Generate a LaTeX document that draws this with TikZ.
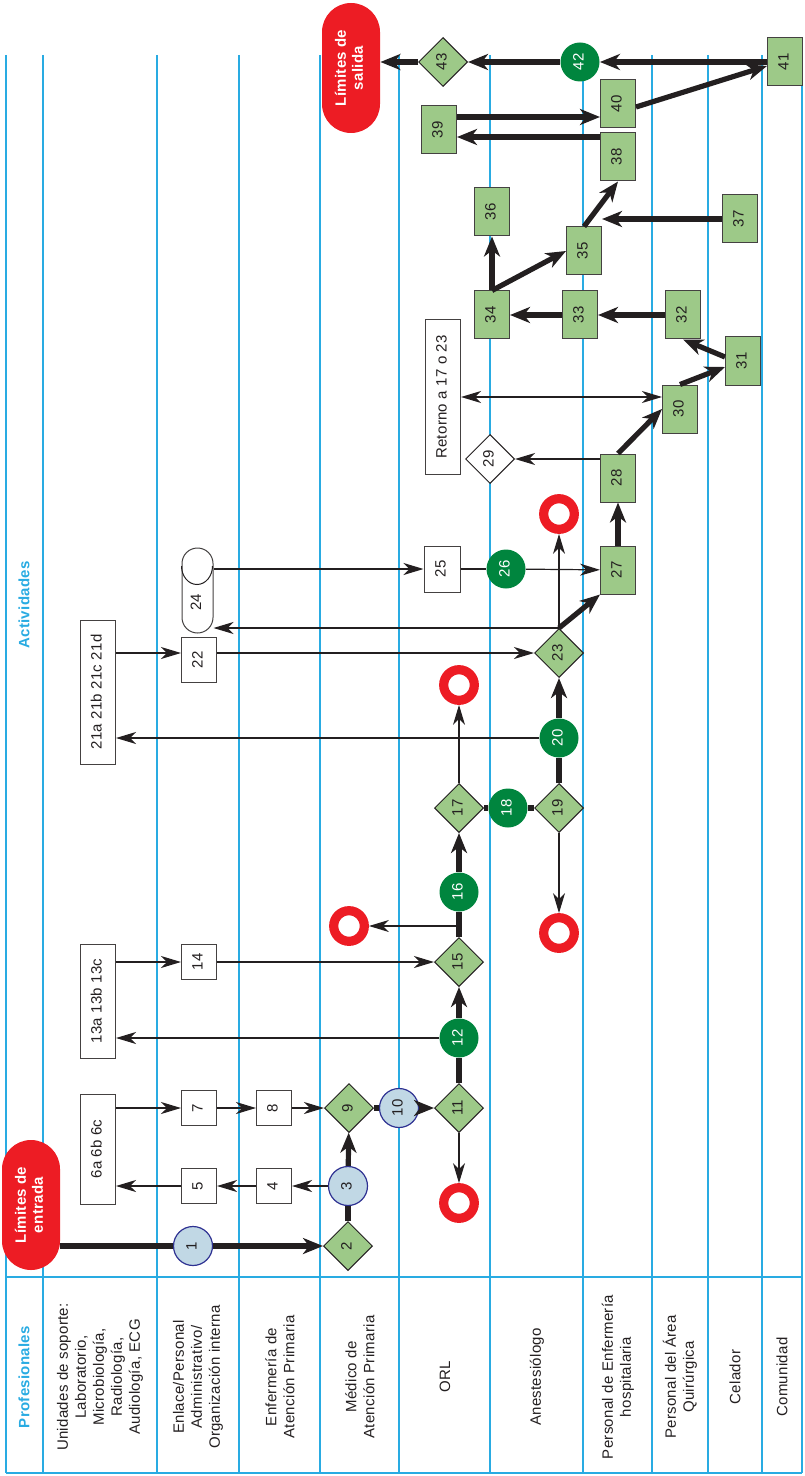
\documentclass[tikz,border=0pt]{standalone}
\usepackage{fontspec}
\setmainfont{Liberation Sans}[LetterSpace=2]
\usepackage{graphicx}
\usetikzlibrary{shapes.geometric, arrows.meta, positioning}

\definecolor{lanecol}{RGB}{41,171,226}
\definecolor{greenfill}{RGB}{157,201,136}
\definecolor{darkgreen}{RGB}{0,133,62}
\definecolor{paleblue}{RGB}{193,216,229}
\definecolor{navy}{RGB}{46,49,146}
\definecolor{alertred}{RGB}{237,28,36}
\definecolor{ink}{RGB}{35,31,32}

\newcommand{\vtxt}[1]{\rotatebox{90}{\begin{tabular}{@{}c@{}}#1\end{tabular}}}

\begin{document}
\begin{tikzpicture}[
    x=0.5pt, y=-0.5pt,
    font=\fontsize{7.5}{9}\selectfont,
    lane/.style={draw=lanecol, line width=0.8pt},
    lanetxt/.style={rotate=90, align=center, inner sep=0pt, text=ink},
    head/.style={rotate=90, inner sep=0pt, text=lanecol,
                 font=\fontsize{7.5}{9}\selectfont\bfseries},
    box/.style={rectangle, draw=ink!85, fill=white, line width=0.5pt, inner sep=0pt,
                minimum width=17.5pt, minimum height=17.5pt, text=ink},
    gbox/.style={box, fill=greenfill, minimum height=24pt},
    dec/.style={diamond, draw=ink, fill=greenfill, line width=0.5pt, inner sep=0pt,
                minimum width=24.5pt, minimum height=24.5pt, text=ink},
    pc/.style={circle, draw=navy, fill=paleblue, line width=0.6pt, inner sep=0pt,
               minimum size=19.5pt, text=ink},
    gc/.style={circle, fill=darkgreen, text=white, inner sep=0pt, minimum size=19.5pt},
    ring/.style={circle, draw=alertred, line width=4.6pt, inner sep=0pt, minimum size=15.3pt},
    limit/.style={rectangle, rounded corners=14.5pt, fill=alertred, text=white,
                  minimum width=29pt, minimum height=65pt, inner sep=0pt,
                  font=\fontsize{7.5}{8.5}\selectfont\bfseries},
    flow/.style={draw=ink, line width=0.6pt, -{Stealth[length=10pt, width=6pt, inset=3pt]}},
    flowboth/.style={draw=ink, line width=0.6pt,
                     {Stealth[length=10pt, width=6pt, inset=3pt]}-{Stealth[length=10pt, width=6pt, inset=3pt]}},
    flowline/.style={draw=ink, line width=0.6pt},
    bigflow/.style={draw=ink, line width=2.6pt, -{Stealth[length=10pt, width=8pt, inset=3pt]}},
    bigline/.style={draw=ink, line width=2.6pt}
]
\useasboundingbox (0,0) rectangle (804,1476);

% swimlanes
\foreach \x in {6,43,157,239,320,399,490,583,652,708,762,802}
  \draw[lane] (\x,55) -- (\x,1473);
\draw[lane] (6,1277) -- (802,1277);
\draw[lane] (6,1473) -- (802,1473);

\node[head] (hact) at (24,605) {Actividades};
\node[head] (hprof) at (24,1377) {Profesionales};
\node[lanetxt] (l1) at (100,1377) {Unidades de soporte:\\Laboratorio,\\Microbiología,\\Radiología,\\Audiología, ECG};
\node[lanetxt] (l2) at (198,1377) {Enlace/Personal\\Administrativo/\\Organización interna};
\node[lanetxt] (l3) at (280,1377) {Enfermería de\\Atención Primaria};
\node[lanetxt] (l4) at (360,1377) {Médico de\\Atención Primaria};
\node[lanetxt] (l5) at (445,1377) {ORL};
\node[lanetxt] (l6) at (537,1377) {Anestesiólogo};
\node[lanetxt] (l7) at (618,1377) {Personal de Enfermería\\hospitalaria};
\node[lanetxt] (l8) at (680,1377) {Personal del Área\\Quirúrgica};
\node[lanetxt] (l9) at (735,1377) {Celador};
\node[lanetxt] (l10) at (782,1377) {Comunidad};

% activities
\node[limit] (entrada) at (31,1205) {\vtxt{Límites de\\entrada}};
\node[limit] (salida) at (351,68) {\vtxt{Límites de\\salida}};

\node[pc]  (c1) at (193,1246) {\vtxt{1}};
\node[dec] (d2) at (348,1246) {\vtxt{2}};
\node[pc]  (c3) at (348,1186) {\vtxt{3}};
\node[box] (b4) at (274,1186) {\vtxt{4}};
\node[box] (b5) at (199,1186) {\vtxt{5}};
\node[box, minimum height=55pt] (b6) at (98,1149) {\vtxt{6a 6b 6c}};
\node[box] (b7) at (199,1108) {\vtxt{7}};
\node[box] (b8) at (274,1108) {\vtxt{8}};
\node[dec] (d9) at (349,1108) {\vtxt{9}};
\node[pc]  (c10) at (399,1108) {\vtxt{10}};
\node[dec] (d11) at (459,1108) {\vtxt{11}};
\node[ring] (r11) at (459,1203) {};
\node[gc]  (c12) at (459,1038) {\vtxt{12}};
\node[box, minimum height=57pt] (b13) at (98,1001) {\vtxt{13a 13b 13c}};
\node[box] (b14) at (199,962) {\vtxt{14}};
\node[dec] (d15) at (459,962) {\vtxt{15}};
\node[ring] (r15) at (349,926) {};
\node[gc]  (c16) at (459,892) {\vtxt{16}};
\node[dec] (d17) at (459,808) {\vtxt{17}};
\node[ring] (r17) at (459,685) {};
\node[gc]  (c18) at (508,808) {\vtxt{18}};
\node[dec] (d19) at (559,808) {\vtxt{19}};
\node[ring] (r19) at (559,933) {};
\node[gc]  (c20) at (559,738) {\vtxt{20}};
\node[box, minimum height=72pt] (b21) at (98,692) {\vtxt{21a 21b 21c 21d}};
\node[box, minimum height=22.5pt] (b22) at (199,660) {\vtxt{22}};
\node[dec] (d23) at (559,653) {\vtxt{23}};
\node[ring] (r23) at (559,514) {};
\node[box, rounded corners=7.75pt, minimum width=15.5pt, minimum height=42.5pt]
     (cy24) at (197.5,590.5) {\vtxt{24\kern12pt}};
\draw[ink, line width=0.5pt] ([yshift=-9.25pt]cy24.north west)
     arc[start angle=180, end angle=360, x radius=7.75pt, y radius=9.25pt];
\node[box, minimum width=18pt, minimum height=23pt] (b25) at (442,569) {\vtxt{25}};
\node[gc]   (c26) at (506,569) {\vtxt{26}};
\node[gbox] (g27) at (618,570) {\vtxt{27}};
\node[gbox] (g28) at (618,478) {\vtxt{28}};
\node[dec, fill=white] (d29) at (490,459) {\vtxt{29}};
\node[box, minimum height=77.5pt] (ret) at (443,397) {\vtxt{Retorno a 17 o 23}};
\node[gbox] (g30) at (680,409) {\vtxt{30}};
\node[gbox] (g31) at (743,361) {\vtxt{31}};
\node[gbox] (g32) at (683,315) {\vtxt{32}};
\node[gbox] (g33) at (580,315) {\vtxt{33}};
\node[gbox] (g34) at (492,315) {\vtxt{34}};
\node[gbox] (g35) at (584,251) {\vtxt{35}};
\node[gbox] (g36) at (492,212) {\vtxt{36}};
\node[gbox] (g37) at (740,219) {\vtxt{37}};
\node[gbox] (g38) at (618,157) {\vtxt{38}};
\node[gbox] (g39) at (439,130) {\vtxt{39}};
\node[gbox] (g40) at (618,104) {\vtxt{40}};
\node[gbox] (g41) at (785,62) {\vtxt{41}};
\node[gc]   (c42) at (580,62) {\vtxt{42}};
\node[dec]  (d43) at (443,62) {\vtxt{43}};

% connectors
\draw[bigline] (entrada.east |- c1) -- (c1);
\draw[bigflow] (c1) -- (d2);
\draw[bigline] (d2) -- (c3);
\draw[bigflow] (c3) -- (d9);
\draw[flow] (c3) -- (b4);
\draw[flow] (b4) -- (b5);
\draw[flow] (b5) -- (b5 -| b6.east);
\draw[flow] (b6.east |- b7) -- (b7);
\draw[flow] (b7) -- (b8);
\draw[flow] (b8) -- (d9);
\draw[bigline] (d9) -- (c10);
\draw[bigflow] (c10) -- (d11);
\draw[flow] (d11) -- (r11);
\draw[bigline] (d11) -- (c12);
\draw[bigflow] (c12) -- (d15);
\draw[flow] (c12) -- (c12 -| b13.east);
\draw[flow] (b13.east |- b14) -- (b14);
\draw[flow] (b14) -- (d15);
\draw[bigline] (d15) -- (c16);
\draw[flow] (c16 |- r15) -- (r15);
\draw[bigflow] (c16) -- (d17);
\draw[flow] (d17) -- (r17);
\draw[bigline] (d17) -- (c18);
\draw[bigline] (c18) -- (d19);
\draw[flow] (d19) -- (r19);
\draw[bigline] (d19) -- (c20);
\draw[flow] (c20) -- (c20 -| b21.east);
\draw[bigflow] (c20) -- (d23);
\draw[flow] (b21.east |- d23) -- (b22.west |- d23);
\draw[flow] (b22.east |- d23) -- (d23);
\draw[flow] (d23.north) -- (d23.north -| cy24.east);
\draw[flow] (d23.north) -- (r23);
\draw[bigflow] (d23.north) -- (g27.south west);
\draw[flow] (cy24.east |- b25) -- (b25);
\draw[flowline] (b25) -- (c26);
\draw[flow] (c26) -- (g27);
\draw[bigflow] (g27) -- (g28);
\draw[flow] (g28.west |- d29) -- (d29);
\draw[bigflow] (g28.north) -- (g30.west);
\draw[flowboth] (ret.east) -- (ret.east -| g30.west);
\draw[bigflow] (g30.north) -- ([yshift=-3pt]g31.west);
\draw[bigflow] ([yshift=2pt]g31.west) -- (g32.south);
\draw[bigflow] (g32) -- (g33);
\draw[bigflow] (g33) -- (g34);
\draw[bigflow] (g34.north) -- (g36);
\draw[bigflow] (g34.north) -- (g35.west);
\draw[bigflow] (g37) -- (g37 -| g35.east);
\draw[bigflow] (g35.north) -- (g38.south);
\draw[bigflow] ([yshift=6.5pt]g39.east) -- ([yshift=6.5pt]g39.east -| g40.west);
\draw[bigflow] ([yshift=-3.5pt]g39.east -| g38.west) -- ([yshift=-3.5pt]g39.east);
\draw[bigflow] ([yshift=-1.5pt]g40.east) -- ([yshift=-2pt]g41.west);
\draw[bigflow] (g41) -- (c42);
\draw[bigflow] (c42) -- (d43);
\draw[bigflow] (d43) -- (d43 -| salida.east);
\end{tikzpicture}
\end{document}
